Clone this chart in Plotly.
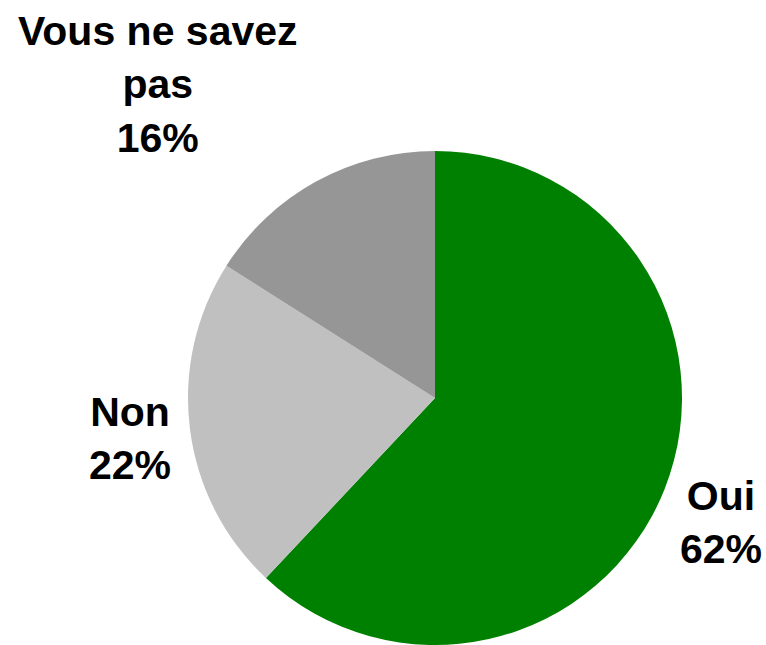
import plotly.graph_objects as go

labels = ["Oui", "Non", "Vous ne savez pas"]
values = [62, 22, 16]
colors = ["#008000", "#C0C0C0", "#969696"]

# label text shown outside the pie (line breaks as in the original)
label_text = ["Oui<br>62%", "Non<br>22%", "Vous ne savez<br>pas<br>16%"]
label_pos = [(721, 522), (130, 438), (158, 84)]  # pixel centres

W, H = 766, 645

fig = go.Figure(go.Pie(
    labels=labels,
    values=values,
    sort=False,
    direction="clockwise",
    rotation=0,
    marker={"colors": colors, "line": {"width": 0}},
    textinfo="none",
    hoverinfo="label+percent",
    domain={"x": [185 / W, 685 / W], "y": [0, 1 - 151 / H]},
    showlegend=False,
))

for txt, (px_, py_) in zip(label_text, label_pos):
    fig.add_annotation(
        text=txt, x=px_ / W, y=1 - py_ / H,
        xref="paper", yref="paper",
        xanchor="center", yanchor="middle",
        showarrow=False, align="center",
        font={"family": "Liberation Sans, Arial, sans-serif", "size": 41,
              "color": "black", "weight": "bold"},
    )

fig.update_layout(
    width=W, height=H,
    margin={"t": 0, "b": 0, "l": 0, "r": 0},
    paper_bgcolor="white", plot_bgcolor="white",
)
# drop the default 8px body margin so the figure fills the window exactly
fig.write_html("out.html", config={"displayModeBar": False},
               post_script="document.body.style.margin='0';")
